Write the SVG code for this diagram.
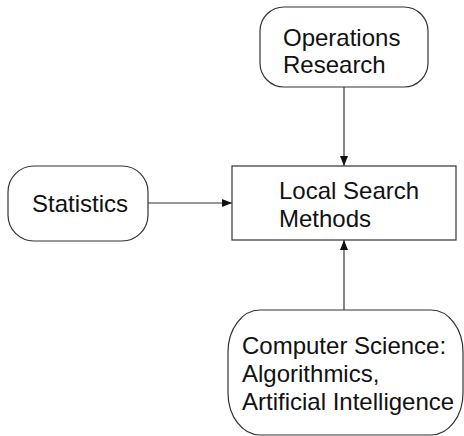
<svg xmlns="http://www.w3.org/2000/svg" width="464" height="436" viewBox="0 0 464 436">
<style>
.box{fill:#fff;stroke:#333;stroke-width:1.2}
.t{font-family:"Liberation Sans",Arial,sans-serif;font-size:24px;fill:#111}
.c{stroke:#333;stroke-width:1.2;fill:none}
</style>
<defs>
<marker id="ah" viewBox="0 0 10 8" refX="10" refY="4" markerWidth="10" markerHeight="8" markerUnits="userSpaceOnUse" orient="auto">
<path d="M0,0 L10,4 L0,8 Z" fill="#111"/>
</marker>
</defs>
<rect width="464" height="436" fill="#fff"/>
<g id="connectors">
<line class="c" x1="344" y1="87" x2="344" y2="166" marker-end="url(#ah)"/>
<line class="c" x1="148" y1="203" x2="232" y2="203" marker-end="url(#ah)"/>
<line class="c" x1="344" y1="310" x2="344" y2="240" marker-end="url(#ah)"/>
</g>
<g id="operations-research">
<rect class="box" x="260" y="7" width="168" height="80" rx="24" ry="24"/>
<text class="t" x="283" y="45.5">Operations</text>
<text class="t" x="283" y="72.5">Research</text>
</g>
<g id="statistics">
<rect class="box" x="8" y="166" width="140" height="75" rx="26" ry="26"/>
<text class="t" x="32" y="212">Statistics</text>
</g>
<g id="local-search">
<rect class="box" x="232" y="166" width="224" height="74"/>
<text class="t" x="279" y="199">Local Search</text>
<text class="t" x="279" y="226.5">Methods</text>
</g>
<g id="computer-science">
<rect class="box" x="228" y="310" width="235" height="125" rx="32" ry="42"/>
<text class="t" x="242" y="354">Computer Science:</text>
<text class="t" x="242" y="382">Algorithmics,</text>
<text class="t" x="242" y="410">Artificial Intelligence</text>
</g>
</svg>
